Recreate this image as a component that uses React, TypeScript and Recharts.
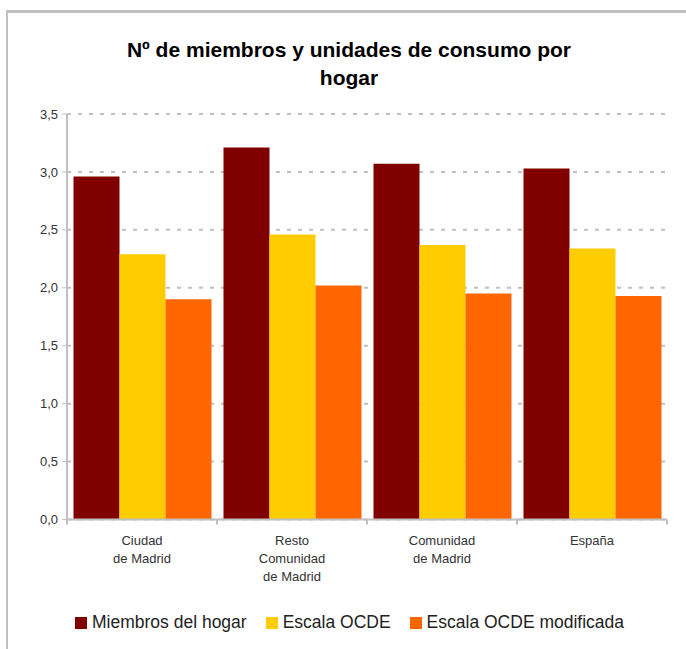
import { BarChart, Bar, XAxis, YAxis, CartesianGrid, Legend } from "recharts"

const categories = ["Ciudad de Madrid", "Resto Comunidad de Madrid", "Comunidad de Madrid", "España"]
const categoryLines = [["Ciudad", "de Madrid"], ["Resto", "Comunidad", "de Madrid"], ["Comunidad", "de Madrid"], ["España"]]
const miembros = [2.96, 3.21, 3.07, 3.03]
const escalaOcde = [2.29, 2.46, 2.37, 2.34]
const escalaOcdeMod = [1.9, 2.02, 1.95, 1.93]
const yTicks = [0, 0.5, 1, 1.5, 2, 2.5, 3, 3.5]

const series = [
  { key: "miembros", name: "Miembros del hogar", color: "#800000" },
  { key: "ocde", name: "Escala OCDE", color: "#FFCC00" },
  { key: "ocdeMod", name: "Escala OCDE modificada", color: "#FF6600" },
]

const FONT = "'Liberation Sans', Arial, sans-serif"

const data = categories.map((name, i) => ({
  name,
  miembros: miembros[i],
  ocde: escalaOcde[i],
  ocdeMod: escalaOcdeMod[i],
}))

// category label plus tick marks on the category boundaries
function CategoryTick(props: any) {
  const { x, y, payload, visibleTicksCount } = props
  const half = payload.offset || 75
  const lines = categoryLines[payload.index] || [payload.value]
  const isLast = payload.index === visibleTicksCount - 1
  return (
    <g>
      <line x1={x - half} x2={x - half} y1={y} y2={y + 5} stroke="#C0C0C0" strokeWidth={2} />
      {isLast && <line x1={x + half} x2={x + half} y1={y} y2={y + 5} stroke="#C0C0C0" strokeWidth={2} />}
      <text x={x} y={y + 25} textAnchor="middle" fontSize={13} fill="#333" fontFamily={FONT}>
        {lines.map((l: string, i: number) => (
          <tspan key={i} x={x} dy={i === 0 ? 0 : 18}>
            {l}
          </tspan>
        ))}
      </text>
    </g>
  )
}

function renderLegend() {
  return (
    <div style={{ height: 36, display: "flex", alignItems: "center", fontFamily: FONT, fontSize: 17.5, color: "#222" }}>
      {series.map((s) => (
        <div key={s.key} style={{ display: "flex", alignItems: "center", marginRight: 19 }}>
          <span style={{ width: 12, height: 12, background: s.color, display: "inline-block", marginRight: 5 }} />
          <span>{s.name}</span>
        </div>
      ))}
    </div>
  )
}

export default function App() {
  return (
    <div style={{ position: "fixed", left: 0, top: 0, width: 686, height: 649, background: "#fff", overflow: "hidden" }}>
      <div
        style={{
          position: "absolute",
          left: 6,
          top: 10,
          width: 720,
          height: 700,
          borderTop: "3px solid #C0C0C0",
          borderLeft: "2px solid #C0C0C0",
        }}
      />
      <div
        style={{
          position: "absolute",
          left: 0,
          top: 36,
          width: 698,
          textAlign: "center",
          fontFamily: FONT,
          fontWeight: "bold",
          fontSize: 21,
          lineHeight: "28px",
          color: "#000",
        }}
      >
        Nº de miembros y unidades de consumo por
        <br />
        hogar
      </div>
      <div style={{ position: "absolute", left: 0, top: 0 }}>
        <BarChart
          width={686}
          height={649}
          data={data}
          margin={{ top: 114, right: 19, left: 7, bottom: 8.5 }}
          barCategoryGap={6.5}
          barGap={0}
        >
          <CartesianGrid vertical={false} stroke="#C0C0C0" strokeDasharray="4 7" strokeWidth={2} />
          <XAxis
            dataKey="name"
            height={85}
            interval={0}
            tickLine={false}
            tickSize={0}
            tickMargin={0}
            axisLine={{ stroke: "#C0C0C0", strokeWidth: 2 }}
            tick={<CategoryTick />}
          />
          <YAxis
            width={60}
            domain={[0, 3.5]}
            ticks={yTicks}
            interval={0}
            tickFormatter={(v: number) => v.toFixed(1).replace(".", ",")}
            axisLine={{ stroke: "#C0C0C0", strokeWidth: 2 }}
            tickLine={{ stroke: "#C0C0C0" }}
            tickSize={5}
            tickMargin={4}
            tick={{ fill: "#333", fontSize: 13, fontFamily: FONT }}
          />
          <Legend
            verticalAlign="bottom"
            content={renderLegend}
            wrapperStyle={{ left: 75, width: 600, height: 36 }}
          />
          {series.map((s) => (
            <Bar key={s.key} dataKey={s.key} name={s.name} fill={s.color} isAnimationActive={false} />
          ))}
        </BarChart>
      </div>
    </div>
  )
}
